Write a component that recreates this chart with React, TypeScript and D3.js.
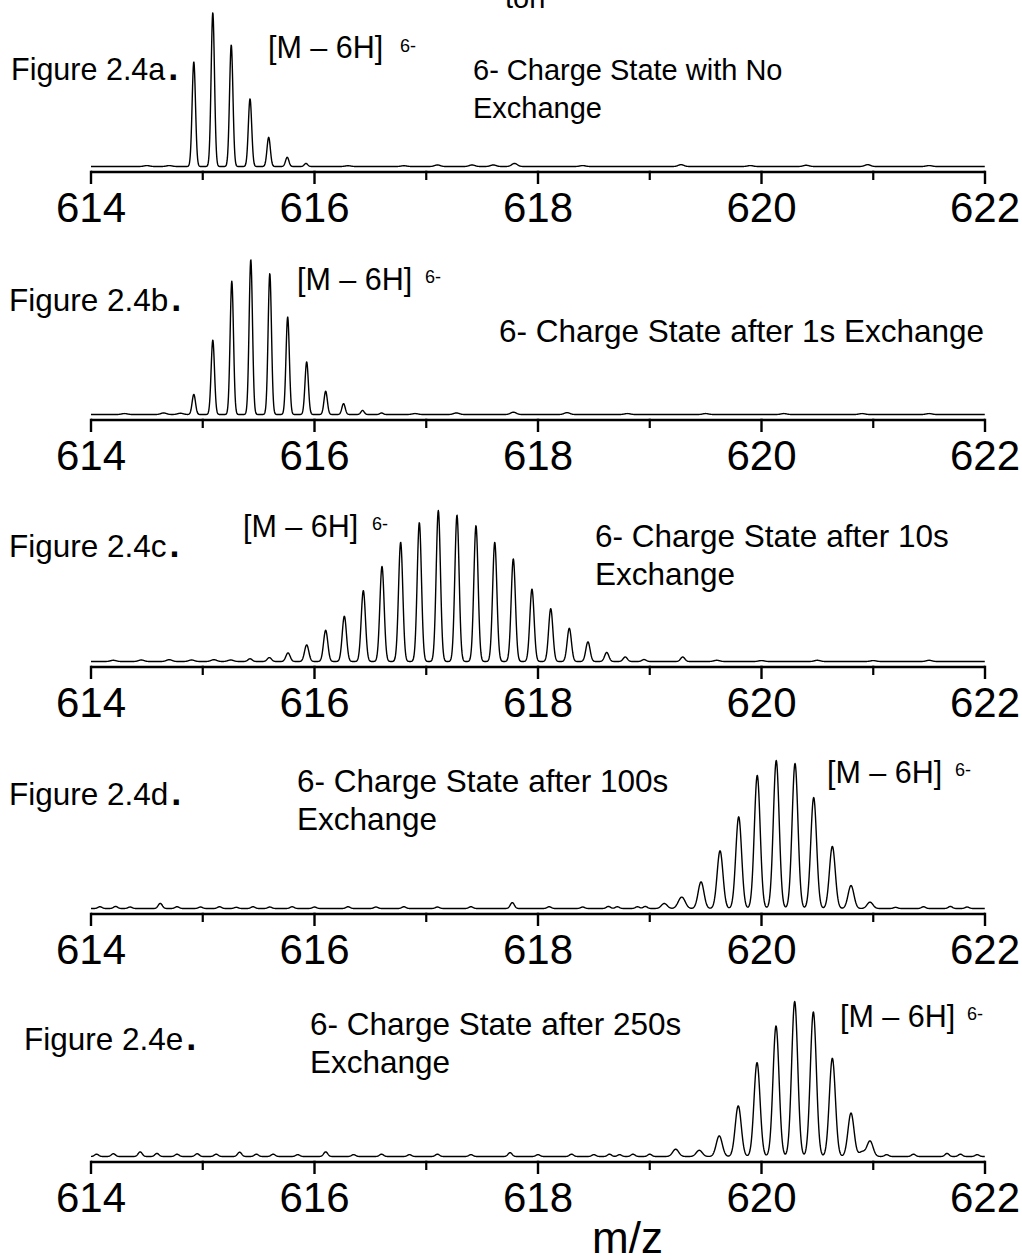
import React from "react";
import * as d3 from "d3";

// ---- axis ----
const mzDomain: [number, number] = [614, 622];
const majorTicks = [614, 616, 618, 620, 622];
const minorTicks = [615, 617, 619, 621];

// ---- panel a: no exchange ----
const peaksA_mz = [614.92, 615.09, 615.255, 615.423, 615.59, 615.756, 615.924];
const peaksA_int = [0.68, 1.0, 0.79, 0.44, 0.19, 0.06, 0.02];
const noiseA_mz = [614.5, 614.7, 616.3, 616.8, 617.1, 617.41, 617.6, 617.79, 618.4, 619.28, 619.9, 620.4, 620.95, 621.5];
const noiseA_int = [0.006, 0.006, 0.005, 0.005, 0.01, 0.01, 0.01, 0.02, 0.006, 0.012, 0.006, 0.008, 0.012, 0.006];

// ---- panel b: 1 s ----
const peaksB_mz = [614.92, 615.09, 615.26, 615.43, 615.6, 615.76, 615.93, 616.1, 616.26, 616.43, 616.6];
const peaksB_int = [0.13, 0.48, 0.86, 1.0, 0.91, 0.63, 0.34, 0.15, 0.07, 0.026, 0.01];
const noiseB_mz = [614.3, 614.65, 614.8, 616.9, 617.27, 617.78, 618.26, 618.8, 619.5, 620.2, 620.9, 621.5];
const noiseB_int = [0.006, 0.01, 0.008, 0.006, 0.01, 0.015, 0.012, 0.006, 0.006, 0.006, 0.006, 0.006];

// ---- panel c: 10 s ----
const peaksC_mz = [615.423, 615.596, 615.763, 615.93, 616.1, 616.267, 616.437, 616.604, 616.771, 616.938, 617.108, 617.275, 617.445, 617.613, 617.779, 617.946, 618.114, 618.28, 618.447, 618.615, 618.781, 618.949, 619.295];
const peaksC_int = [0.018, 0.026, 0.057, 0.11, 0.207, 0.3, 0.47, 0.63, 0.79, 0.92, 1.0, 0.97, 0.9, 0.79, 0.68, 0.48, 0.35, 0.22, 0.13, 0.06, 0.03, 0.013, 0.03];
const noiseC_mz = [614.2, 614.45, 614.7, 614.9, 615.1, 615.25, 619.6, 620.0, 620.5, 621.0, 621.5];
const noiseC_int = [0.008, 0.01, 0.012, 0.01, 0.012, 0.01, 0.008, 0.006, 0.008, 0.006, 0.008];

// ---- panel d: 100 s ----
const peaksD_mz = [619.13, 619.271, 619.3, 619.459, 619.629, 619.796, 619.962, 620.132, 620.3, 620.467, 620.634, 620.801, 620.971];
const peaksD_int = [0.034, 0.043, 0.047, 0.18, 0.39, 0.62, 0.9, 1.0, 0.98, 0.75, 0.42, 0.155, 0.043];
const noiseD_mz = [614.08, 614.22, 614.35, 614.62, 614.77, 614.98, 615.15, 615.3, 615.45, 615.6, 615.8, 616.0, 616.3, 616.55, 616.8, 617.1, 617.4, 617.77, 618.1, 618.4, 618.63, 618.71, 618.89, 618.96, 621.2, 621.45, 621.69, 621.84];
const noiseD_int = [0.012, 0.014, 0.01, 0.035, 0.012, 0.01, 0.012, 0.008, 0.012, 0.01, 0.012, 0.01, 0.012, 0.01, 0.012, 0.01, 0.012, 0.04, 0.012, 0.01, 0.014, 0.012, 0.012, 0.014, 0.008, 0.012, 0.014, 0.01];

// ---- panel e: 250 s ----
const peaksE_mz = [619.232, 619.443, 619.622, 619.792, 619.96, 620.13, 620.297, 620.464, 620.634, 620.801, 620.9, 620.971];
const peaksE_int = [0.047, 0.04, 0.133, 0.327, 0.606, 0.843, 1.0, 0.933, 0.634, 0.28, 0.03, 0.1];
const noiseE_mz = [614.05, 614.2, 614.44, 614.59, 614.77, 614.95, 615.12, 615.33, 615.48, 615.63, 615.85, 616.1, 616.35, 616.6, 616.85, 617.1, 617.4, 617.75, 618.0, 618.3, 618.5, 618.64, 618.73, 618.85, 619.0, 621.12, 621.36, 621.66, 621.78, 621.93];
const noiseE_int = [0.015, 0.018, 0.03, 0.02, 0.015, 0.018, 0.015, 0.028, 0.015, 0.015, 0.012, 0.03, 0.012, 0.015, 0.012, 0.015, 0.012, 0.025, 0.012, 0.015, 0.012, 0.015, 0.012, 0.015, 0.015, 0.012, 0.015, 0.02, 0.015, 0.012];

type Panel = {
  peaksMz: number[]; peaksInt: number[]; noiseMz: number[]; noiseInt: number[];
  axisY: number; maxH: number; sigma: number; noiseSigma: number;
  fig: string; figPos: [number, number]; figSize: number;
  ionPos: [number, number]; supPos: [number, number];
  desc: string[]; descPos: [number, number]; descSize: number;
};

const panels: Panel[] = [
  { peaksMz: peaksA_mz, peaksInt: peaksA_int, noiseMz: noiseA_mz, noiseInt: noiseA_int,
    axisY: 172, maxH: 154, sigma: 0.015, noiseSigma: 0.025, fig: "Figure 2.4a", figPos: [11, 80], figSize: 30.5,
    ionPos: [268, 58], supPos: [400, 52], desc: ["6- Charge State with No", "Exchange"], descPos: [473, 80], descSize: 29 },
  { peaksMz: peaksB_mz, peaksInt: peaksB_int, noiseMz: noiseB_mz, noiseInt: noiseB_int,
    axisY: 420, maxH: 155, sigma: 0.015, noiseSigma: 0.025, fig: "Figure 2.4b", figPos: [9, 311], figSize: 31.5,
    ionPos: [297, 290], supPos: [425, 283], desc: ["6- Charge State after 1s Exchange"], descPos: [499, 342], descSize: 31.5 },
  { peaksMz: peaksC_mz, peaksInt: peaksC_int, noiseMz: noiseC_mz, noiseInt: noiseC_int,
    axisY: 667, maxH: 151, sigma: 0.019, noiseSigma: 0.025, fig: "Figure 2.4c", figPos: [9, 557], figSize: 31.5,
    ionPos: [243, 537], supPos: [372, 530], desc: ["6- Charge State after 10s", "Exchange"], descPos: [595, 547], descSize: 31.5 },
  { peaksMz: peaksD_mz, peaksInt: peaksD_int, noiseMz: noiseD_mz, noiseInt: noiseD_int,
    axisY: 914, maxH: 148, sigma: 0.026, noiseSigma: 0.018, fig: "Figure 2.4d", figPos: [9, 805], figSize: 31.5,
    ionPos: [827, 783], supPos: [955, 776], desc: ["6- Charge State after 100s", "Exchange"], descPos: [297, 792], descSize: 31.5 },
  { peaksMz: peaksE_mz, peaksInt: peaksE_int, noiseMz: noiseE_mz, noiseInt: noiseE_int,
    axisY: 1162, maxH: 155, sigma: 0.027, noiseSigma: 0.018, fig: "Figure 2.4e", figPos: [24, 1050], figSize: 31.5,
    ionPos: [840, 1027], supPos: [967, 1020], desc: ["6- Charge State after 250s", "Exchange"], descPos: [310, 1035], descSize: 31.5 },
];

const FONT = "'Liberation Sans', Arial, Helvetica, sans-serif";
const W = 1022, H = 1260;

const x = d3.scaleLinear().domain(mzDomain).range([91, 985]);
const grid = d3.range(mzDomain[0], mzDomain[1] + 1e-9, 0.003);

function profile(p: Panel): [number, number][] {
  return grid.map((mz) => {
    let v = 0;
    p.peaksMz.forEach((c, i) => {
      const d = (mz - c) / p.sigma;
      if (Math.abs(d) < 8) v += p.peaksInt[i] * Math.exp(-0.5 * d * d);
    });
    p.noiseMz.forEach((c, i) => {
      const d = (mz - c) / p.noiseSigma;
      if (Math.abs(d) < 8) v += p.noiseInt[i] * Math.exp(-0.5 * d * d);
    });
    return [mz, v];
  });
}

function PanelView({ p }: { p: Panel }) {
  const base = p.axisY - 5.5;
  const y = d3.scaleLinear().domain([0, 1]).range([base, base - p.maxH]);
  const line = d3.line<[number, number]>().x((d) => x(d[0])).y((d) => y(d[1]));
  const textStyle = { fontFamily: FONT, fill: "#000" };
  return (
    <g>
      <path d={line(profile(p)) || ""} fill="none" stroke="#000" strokeWidth={1.4} strokeLinejoin="round" />
      <line x1={x(mzDomain[0])} x2={x(mzDomain[1])} y1={p.axisY} y2={p.axisY} stroke="#000" strokeWidth={2.6} />
      {majorTicks.map((t) => (
        <g key={"M" + t}>
          <line x1={x(t)} x2={x(t)} y1={p.axisY - 1.3} y2={p.axisY + 12} stroke="#000" strokeWidth={2.4} />
          <text x={x(t)} y={p.axisY + 50} textAnchor="middle" fontSize={42} style={textStyle}>{t}</text>
        </g>
      ))}
      {minorTicks.map((t) => (
        <line key={"m" + t} x1={x(t)} x2={x(t)} y1={p.axisY - 1.3} y2={p.axisY + 8} stroke="#000" strokeWidth={2.2} />
      ))}
      <text x={p.figPos[0]} y={p.figPos[1]} fontSize={p.figSize} style={textStyle}>
        {p.fig}
        <tspan dx={3} fontWeight="bold" fontSize={36}>.</tspan>
      </text>
      <text x={p.ionPos[0]} y={p.ionPos[1]} fontSize={30.5} style={textStyle}>[M – 6H]</text>
      <text x={p.supPos[0]} y={p.supPos[1]} fontSize={18} style={textStyle}>6-</text>
      {p.desc.map((s, i) => (
        <text key={i} x={p.descPos[0]} y={p.descPos[1] + i * 38} fontSize={p.descSize} style={textStyle}>{s}</text>
      ))}
    </g>
  );
}

export default function App() {
  return (
    <svg width={W} height={H} viewBox={`0 0 ${W} ${H}`} style={{ position: "absolute", left: 0, top: 0, background: "#fff" }}>
      <rect x={0} y={0} width={W} height={H} fill="#fff" />
      <text x={505} y={8} fontSize={29} style={{ fontFamily: FONT }}>ton</text>
      {panels.map((p, i) => (
        <PanelView key={i} p={p} />
      ))}
      <text x={592} y={1253} fontSize={44} style={{ fontFamily: FONT }}>m/z</text>
    </svg>
  );
}
